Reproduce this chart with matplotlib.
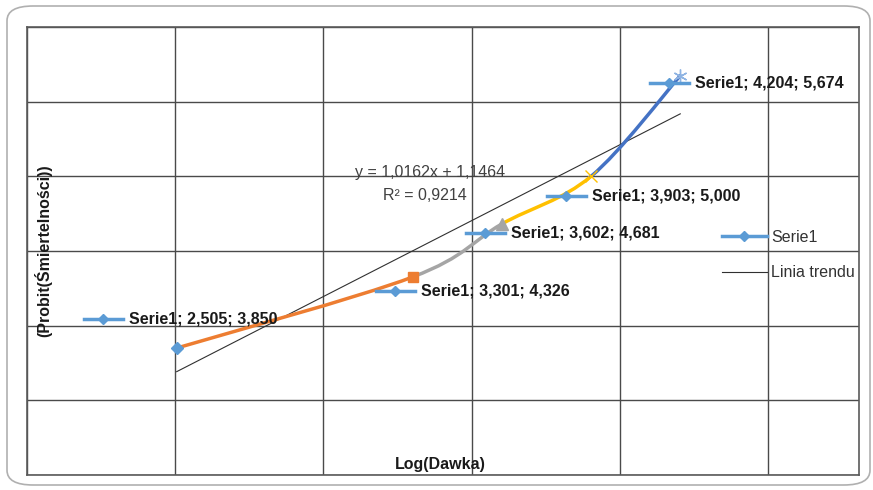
import matplotlib
matplotlib.use('Agg')
import matplotlib.pyplot as plt
from matplotlib.path import Path
from matplotlib.patches import PathPatch, FancyBboxPatch
from matplotlib.lines import Line2D
from matplotlib.transforms import offset_copy
import numpy as np

plt.rcParams['font.family'] = ['Liberation Sans', 'DejaVu Sans']

# data
log_dose = [2.505, 3.301, 3.602, 3.903, 4.204]
probit = [3.850, 4.326, 4.681, 5.000, 5.674]
labels = ['Serie1; 2,505; 3,850', 'Serie1; 3,301; 4,326', 'Serie1; 3,602; 4,681',
          'Serie1; 3,903; 5,000', 'Serie1; 4,204; 5,674']
slope = 1.0162
intercept = 1.1464
r2_text = 'R² = 0,9214'
eq_text = 'y = 1,0162x + 1,1464'

seg_colors = ['#ED7D31', '#A5A5A5', '#FFC000', '#4472C4']
key_blue = '#5B9BD5'

W, H = 873, 490
fig = plt.figure(figsize=(W / 100, H / 100), dpi=100)
ax = fig.add_axes([27 / W, 15 / H, 832 / W, 448 / H])

# rounded outer frame
fig.patches.append(FancyBboxPatch((7 / W, 5 / H), 863 / W, 479 / H,
                                  boxstyle='round,pad=0,rounding_size=0.03',
                                  transform=fig.transFigure, fill=False,
                                  edgecolor='#B0B0B0', lw=1.2, zorder=0))

ax.set_xlim(2.0, 4.807)
ax.set_ylim(3.0, 6.0)
ax.set_xticks(np.arange(2.0, 4.81, 0.5))
ax.set_yticks(np.arange(3.0, 6.01, 0.5))
ax.tick_params(length=0, labelbottom=False, labelleft=False)
ax.grid(True, color='#4a4a4a', lw=1)
for s in ax.spines.values():
    s.set_color('#5a5a5a')
    s.set_linewidth(1.2)

# smoothed line, one colour per segment (Excel-style bezier)
pts = np.column_stack([log_dose, probit])
n = len(pts)
for i in range(n - 1):
    p0 = pts[max(i - 1, 0)]
    p1 = pts[i]
    p2 = pts[i + 1]
    p3 = pts[min(i + 2, n - 1)]
    c1 = p1 + (p2 - p0) / 6
    c2 = p2 - (p3 - p1) / 6
    path = Path([p1, c1, c2, p2], [Path.MOVETO, Path.CURVE4, Path.CURVE4, Path.CURVE4])
    ax.add_patch(PathPatch(path, fill=False, edgecolor=seg_colors[i], lw=2.5,
                           capstyle='round', zorder=3))

# markers
ax.plot(log_dose[0], probit[0], marker='D', color=key_blue, ms=6, ls='none', zorder=4)
ax.plot(log_dose[1], probit[1], marker='s', color='#ED7D31', ms=7, ls='none', zorder=4)
ax.plot(log_dose[2], probit[2], marker='^', color='#A5A5A5', ms=8, ls='none', zorder=4)
ax.plot(log_dose[3], probit[3], marker='x', color='#FFC000', ms=9, mew=1, ls='none', zorder=4)
ax.plot(log_dose[4], probit[4], marker=(6, 2, 0), color='#8FB4E3', ms=10, mew=1, ls='none', zorder=4)

# trend line
tx = np.array([log_dose[0], log_dose[-1]])
ax.plot(tx, slope * tx + intercept, color='#303030', lw=0.8, zorder=2)

# equation text, positioned in pixels from the top-left
fig.text(430 / W, 1 - 172 / H, eq_text, fontsize=11.5, color='#404040',
         ha='center', va='center')
fig.text(425 / W, 1 - 195 / H, r2_text, fontsize=11.5, color='#404040',
         ha='center', va='center')

# data labels with legend keys (offsets in pixels from the point)
label_offsets = [(-48, 29), (8, -14), (9, -9), (1, -20), (15, -7)]
for x, y, lab, (dx, dy) in zip(log_dose, probit, labels, label_offsets):
    tr = offset_copy(ax.transData, fig=fig, x=dx, y=dy, units='dots')
    ax.text(x, y, lab, transform=tr, fontsize=11.5, fontweight='bold',
            color='#1a1a1a', ha='left', va='center', zorder=6)
    p_a = offset_copy(ax.transData, fig=fig, x=dx - 45, y=dy, units='dots').transform((x, y))
    p_b = offset_copy(ax.transData, fig=fig, x=dx - 6, y=dy, units='dots').transform((x, y))
    ax.add_line(Line2D([p_a[0], p_b[0]], [p_a[1], p_b[1]], transform=None,
                       color=key_blue, lw=2.5, zorder=5))
    pm = offset_copy(ax.transData, fig=fig, x=dx - 26, y=dy, units='dots').transform((x, y))
    ax.add_line(Line2D([pm[0]], [pm[1]], transform=None, marker='D',
                       color=key_blue, ms=5, zorder=5))

ax.set_xlabel('Log(Dawka)', fontsize=11.5, fontweight='bold', color='#1a1a1a')
ax.xaxis.set_label_coords(0.497, 0.04)
ax.set_ylabel('(Probit(Śmiertelności))', fontsize=11.5, fontweight='bold', color='#1a1a1a')
ax.yaxis.set_label_coords(0.03, 0.5)

handles = [Line2D([], [], color=key_blue, lw=2.5, marker='D', ms=5),
           Line2D([], [], color='#303030', lw=0.8)]
leg = ax.legend(handles, ['Serie1', 'Linia trendu'], loc='upper left',
                bbox_to_anchor=(0.818, 0.58), frameon=False, fontsize=11.5,
                handlelength=2.8, handletextpad=0.3, labelspacing=1.3,
                labelcolor='#333333')

fig.savefig('out.png', dpi=100)
